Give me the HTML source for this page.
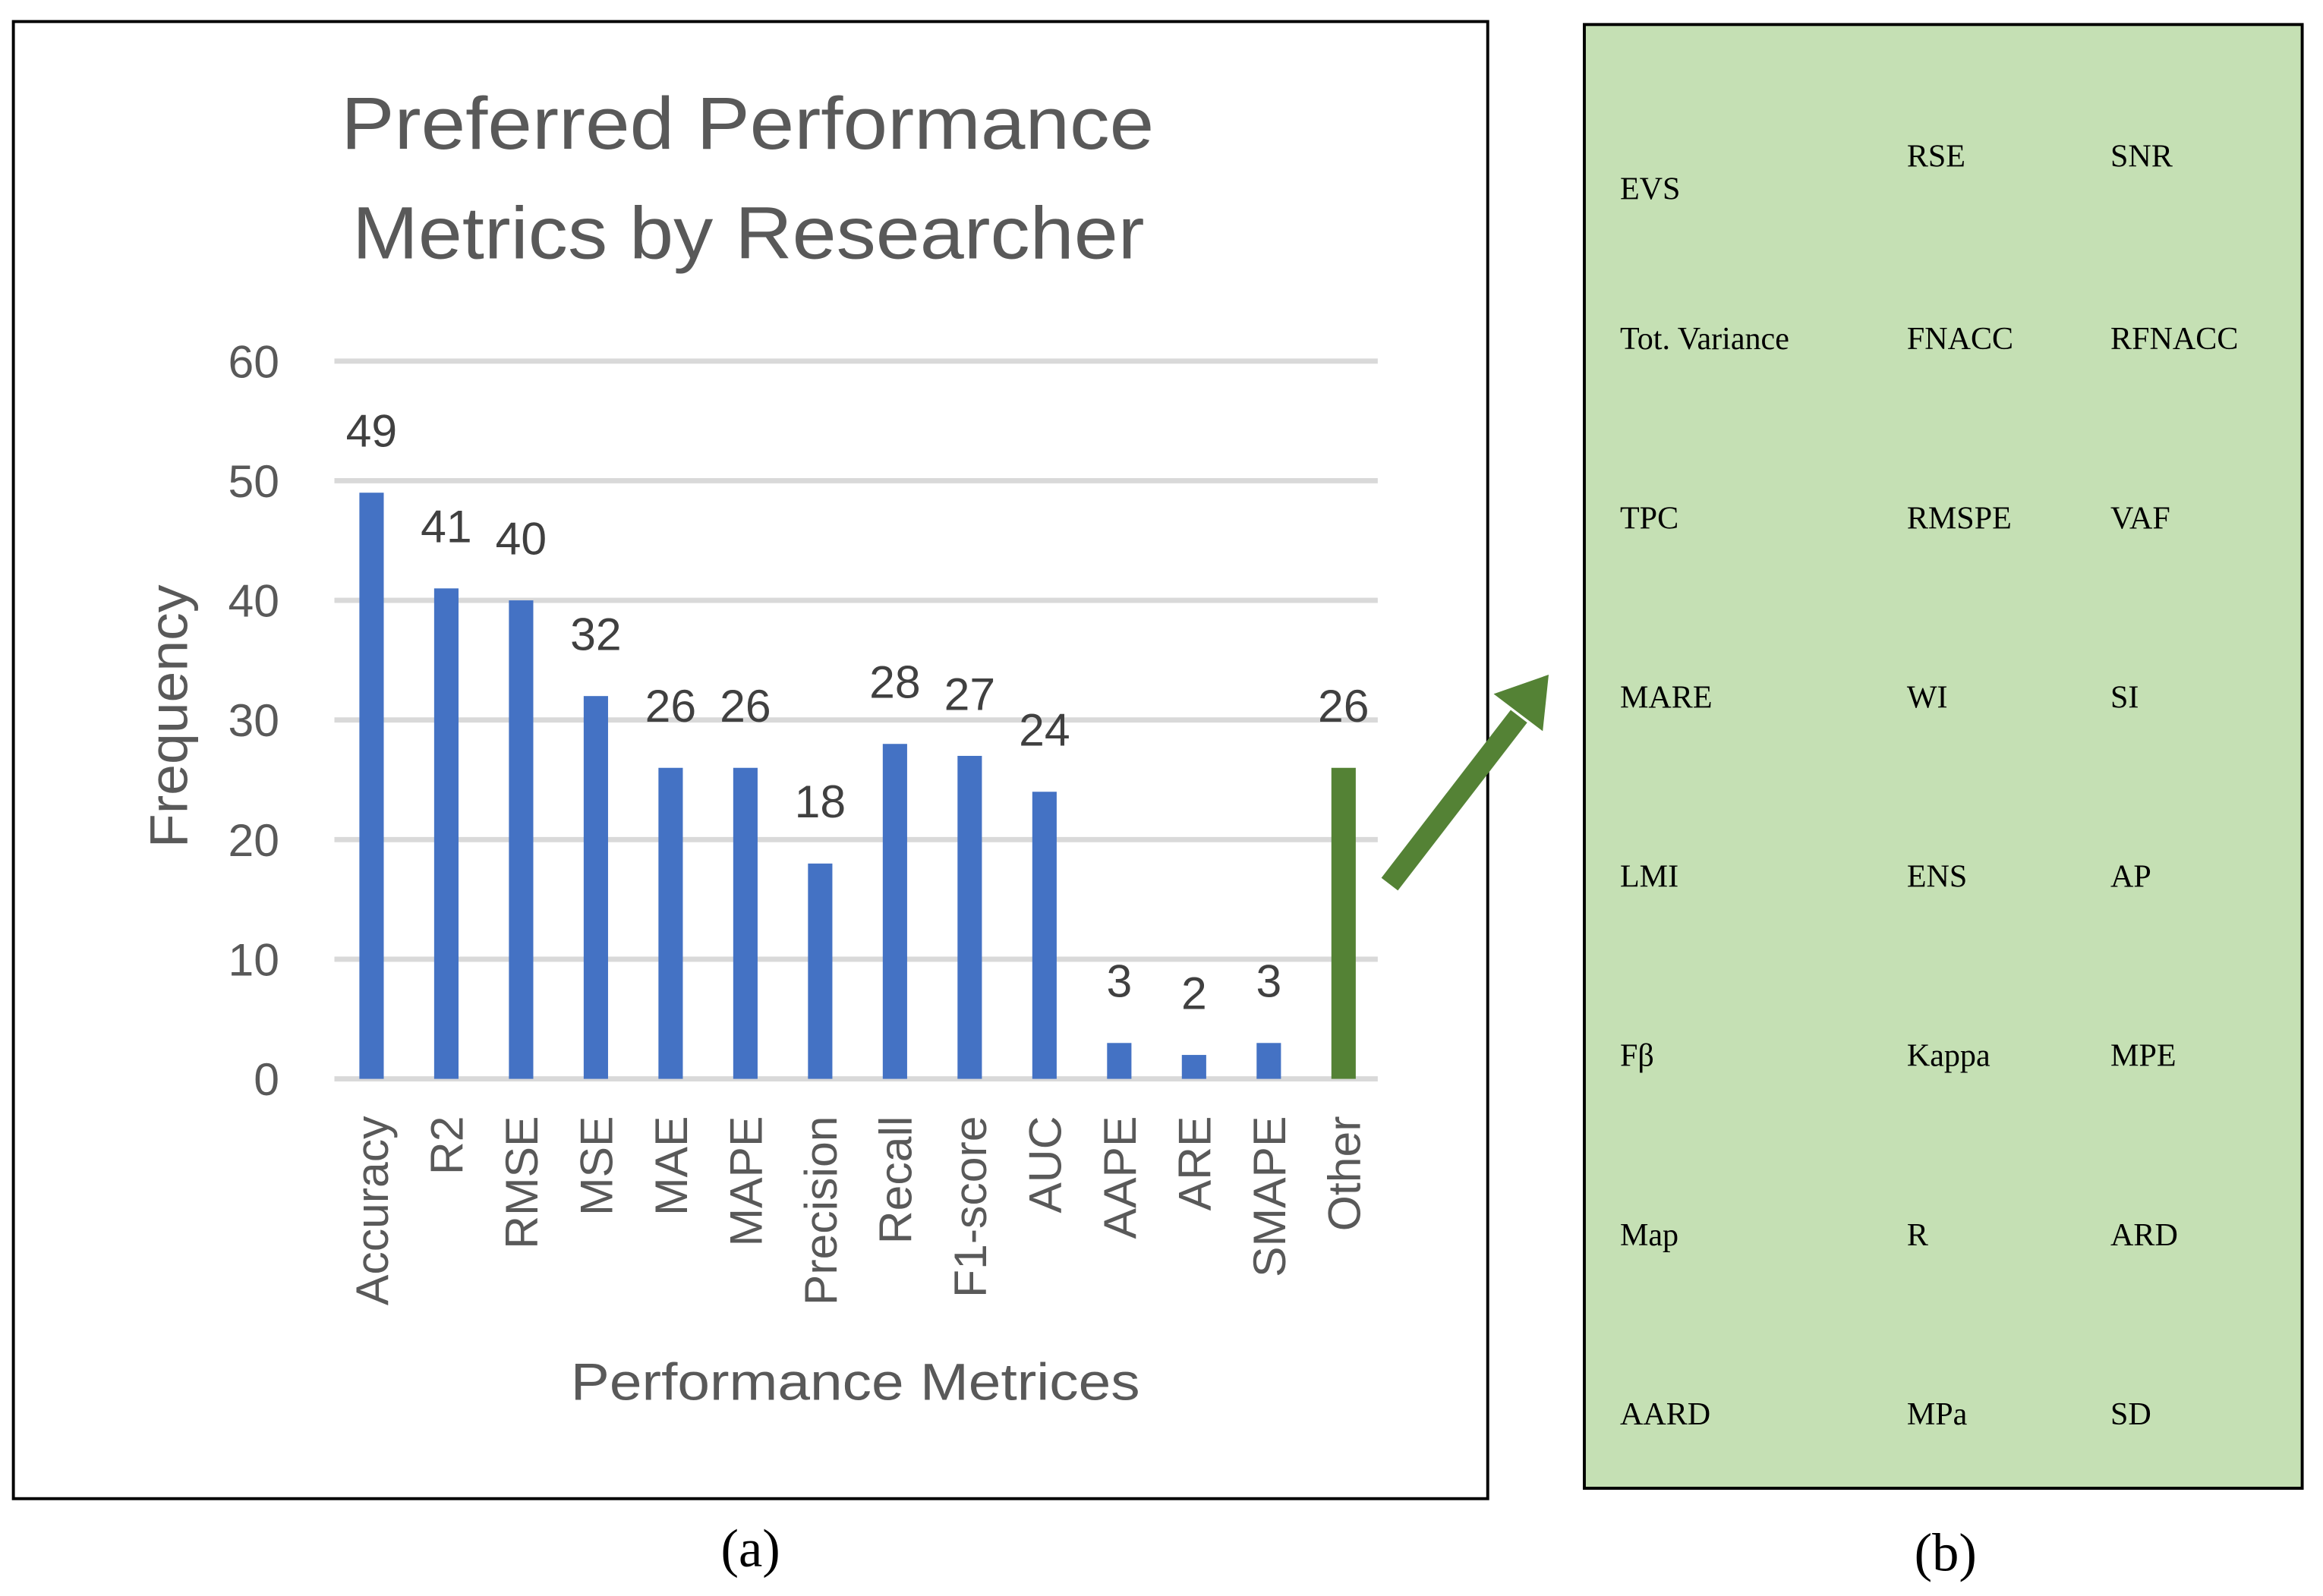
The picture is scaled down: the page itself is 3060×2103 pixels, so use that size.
<!DOCTYPE html>
<html><head><meta charset="utf-8"><style>
html,body{margin:0;padding:0;background:#fff;}
svg{display:block;}
.sans{font-family:"Liberation Sans",sans-serif;}
.serif{font-family:"Liberation Serif",serif;}
</style></head><body>
<svg id="fig" width="3060" height="2103" viewBox="0 0 1563 1074" preserveAspectRatio="none" xmlns="http://www.w3.org/2000/svg">
<rect x="0" y="0" width="1563" height="1074" fill="#fff"/>
<rect x="9" y="14.5" width="992" height="994" fill="none" stroke="#000" stroke-width="2"/>
<g id="chart"></g>
<text class="sans" x="503" y="100" text-anchor="middle" font-size="50" fill="#595959" textLength="547" lengthAdjust="spacingAndGlyphs">Preferred Performance</text>
<text class="sans" x="503.5" y="174" text-anchor="middle" font-size="50" fill="#595959" textLength="533" lengthAdjust="spacingAndGlyphs">Metrics by Researcher</text>
<text class="sans" transform="translate(126,482) rotate(-90)" text-anchor="middle" font-size="36" fill="#595959" textLength="177" lengthAdjust="spacingAndGlyphs">Frequency</text>
<text class="sans" x="575.5" y="942" text-anchor="middle" font-size="35" fill="#595959" textLength="383" lengthAdjust="spacingAndGlyphs">Performance Metrices</text>
<text class="serif" x="505" y="1054" text-anchor="middle" font-size="36" fill="#000">(a)</text>
<g>
<line x1="935" y1="595" x2="1022" y2="482" stroke="#548235" stroke-width="14"/>
<polygon points="1042,454 1038,492 1005,467" fill="#548235"/>
</g>
<rect x="1066" y="16.5" width="483" height="985" fill="#c5e0b4" stroke="#000" stroke-width="2"/>
<g id="metrics" class="serif" font-size="21.5" fill="#000"></g>
<text class="serif" x="1309" y="1057" text-anchor="middle" font-size="36" fill="#000">(b)</text>
</svg>
<script>
const categories = ["Accuracy","R2","RMSE","MSE","MAE","MAPE","Precision","Recall","F1-score","AUC","AAPE","ARE","SMAPE","Other"];
const values = [49,41,40,32,26,26,18,28,27,24,3,2,3,26];
const yTicks = [0,10,20,30,40,50,60];
const otherMetrics = [["EVS","RSE","SNR"],["Tot. Variance","FNACC","RFNACC"],["TPC","RMSPE","VAF"],["MARE","WI","SI"],["LMI","ENS","AP"],["Fβ","Kappa","MPE"],["Map","R","ARD"],["AARD","MPa","SD"]];

const NS="http://www.w3.org/2000/svg";
const g=document.getElementById('chart');
const y0=726, yTop=243, yMax=60;
const yScale=v=>y0-(v/yMax)*(y0-yTop);
const x0=250, step=(904-250)/13;
const xScale=i=>x0+i*step;
function mk(tag,attrs,text){const e=document.createElementNS(NS,tag);for(const k in attrs)e.setAttribute(k,attrs[k]);if(text!==undefined)e.textContent=text;return e;}
yTicks.forEach(t=>{
  const l=mk('line',{x1:225,x2:927,y1:yScale(t),y2:yScale(t),stroke:'#d9d9d9','stroke-width':3.5});
  
  
  g.appendChild(l);
  const tx=mk('text',{x:188,y:yScale(t)+11,'text-anchor':'end','font-size':31,fill:'#595959','class':'sans'},String(t));
  
  
  g.appendChild(tx);
});
categories.forEach((c,i)=>{
  const cx=xScale(i), v=values[i];
  const r=mk('rect',{x:cx-8.2,y:yScale(v),width:16.4,height:y0-yScale(v),fill:c==='Other'?'#548235':'#4472c4'});
  
  
  g.appendChild(r);
  const lb=mk('text',{x:cx,y:yScale(v)-31,'text-anchor':'middle','font-size':31,fill:'#404040','class':'sans'},String(v));
  
  
  g.appendChild(lb);
  const cl=mk('text',{transform:`translate(${cx+11},751) rotate(-90)`,'text-anchor':'end','font-size':31,fill:'#595959','class':'sans'},c);
  
  
  g.appendChild(cl);
});
const mg=document.getElementById('metrics');
const colX=[1090,1283,1420];
otherMetrics.forEach((row,ri)=>{
  row.forEach((m,ci)=>{
    let y = ri===0 ? (ci===0?134:112) : 235+(ri-1)*120.6;
    const t=mk('text',{x:colX[ci],y:y},m);
    
    
    mg.appendChild(t);
  });
});
</script>
</body></html>
